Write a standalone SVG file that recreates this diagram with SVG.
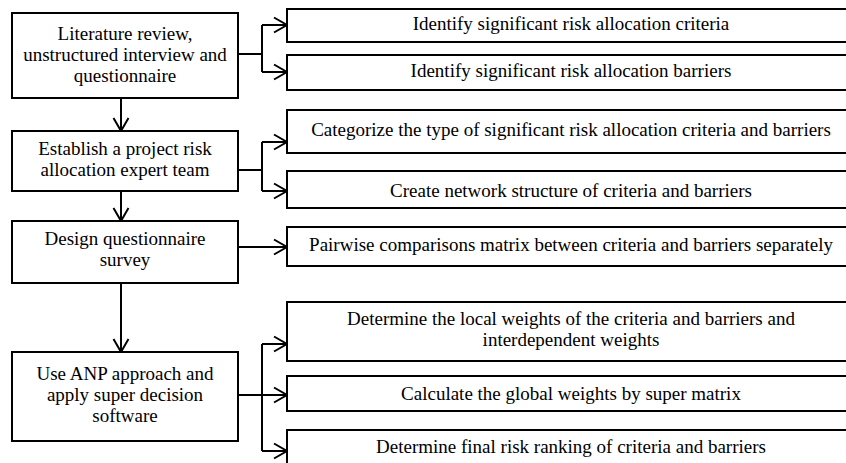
<svg xmlns="http://www.w3.org/2000/svg" width="846" height="463" viewBox="0 0 846 463">
<style>
.box{fill:#fff;stroke:#000;stroke-width:2}
.t{font-family:"Liberation Serif","Times New Roman",serif;font-size:19px;fill:#000;text-anchor:middle}
.c{fill:none;stroke:#000;stroke-width:2}
.a{fill:none;stroke:#000;stroke-width:2;marker-end:url(#ah)}
</style>
<defs>
<marker id="ah" markerUnits="userSpaceOnUse" viewBox="-15 -9 17 18" refX="0" refY="0" markerWidth="17" markerHeight="18" orient="auto">
<path d="M-13,-7.5 L0,0 L-13,7.5" fill="none" stroke="#000" stroke-width="2"/>
</marker>
</defs>
<rect width="846" height="463" fill="#fff"/>
<g id="connectors">
<path class="a" d="M121,98 V131"/>
<path class="a" d="M121,191 V221"/>
<path class="a" d="M121,283 V352"/>
<path class="c" d="M238,54 H262 M262,25 V72"/>
<path class="a" d="M262,25 H287"/>
<path class="a" d="M262,72 H287"/>
<path class="c" d="M238,170 H262 M262,142 V191"/>
<path class="a" d="M262,142 H287"/>
<path class="a" d="M262,191 H287"/>
<path class="a" d="M238,247 H287"/>
<path class="c" d="M238,395 H262 M262,344 V451"/>
<path class="a" d="M262,344 H287"/>
<path class="a" d="M262,395 H287"/>
<path class="a" d="M262,451 H287"/>
</g>
<g id="n1"><rect class="box" x="12" y="13" width="226" height="85"/>
<text class="t" x="125" y="40">Literature review,</text>
<text class="t" x="125" y="61">unstructured interview and</text>
<text class="t" x="125" y="82">questionnaire</text></g>
<g id="n2"><rect class="box" x="12" y="131" width="226" height="60"/>
<text class="t" x="125" y="155">Establish a project risk</text>
<text class="t" x="125" y="176">allocation expert team</text></g>
<g id="n3"><rect class="box" x="12" y="221" width="226" height="62"/>
<text class="t" x="125" y="245">Design questionnaire</text>
<text class="t" x="125" y="266">survey</text></g>
<g id="n4"><rect class="box" x="12" y="352" width="226" height="89"/>
<text class="t" x="125" y="380">Use ANP approach and</text>
<text class="t" x="125" y="401">apply super decision</text>
<text class="t" x="125" y="422">software</text></g>
<g id="r1"><rect class="box" x="287" y="9" width="570" height="33"/>
<text class="t" x="571" y="30">Identify significant risk allocation criteria</text></g>
<g id="r2"><rect class="box" x="287" y="55" width="570" height="35"/>
<text class="t" x="571" y="77">Identify significant risk allocation barriers</text></g>
<g id="r3"><rect class="box" x="287" y="110" width="570" height="43"/>
<text class="t" x="571" y="136">Categorize the type of significant risk allocation criteria and barriers</text></g>
<g id="r4"><rect class="box" x="287" y="171" width="570" height="37"/>
<text class="t" x="571" y="197">Create network structure of criteria and barriers</text></g>
<g id="r5"><rect class="box" x="287" y="227" width="570" height="39"/>
<text class="t" x="571" y="251">Pairwise comparisons matrix between criteria and barriers separately</text></g>
<g id="r6"><rect class="box" x="287" y="302" width="570" height="59"/>
<text class="t" x="571" y="325">Determine the local weights of the criteria and barriers and</text>
<text class="t" x="571" y="346">interdependent weights</text></g>
<g id="r7"><rect class="box" x="287" y="376" width="570" height="35"/>
<text class="t" x="571" y="400">Calculate the global weights by super matrix</text></g>
<g id="r8"><rect class="box" x="287" y="430" width="570" height="50"/>
<text class="t" x="571" y="453">Determine final risk ranking of criteria and barriers</text></g>
</svg>
